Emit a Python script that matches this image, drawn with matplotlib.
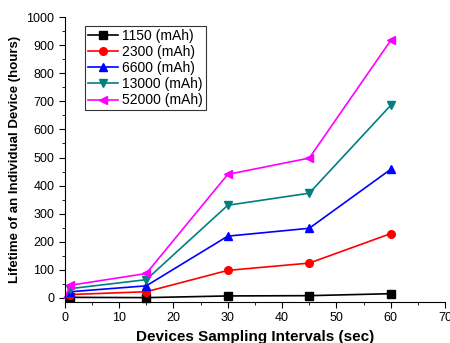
import matplotlib.pyplot as plt
from matplotlib.ticker import MultipleLocator

plt.rcParams['font.family'] = ['Liberation Sans', 'DejaVu Sans']

x = [0, 1, 15, 30, 45, 60]
labels = ['1150 (mAh)', '2300 (mAh)', '6600 (mAh)', '13000 (mAh)', '52000 (mAh)']
y1150 = [0, 2, 1, 7, 8, 15]
y2300 = [0, 12, 22, 98, 124, 229]
y6600 = [0, 22, 43, 220, 248, 458]
y13000 = [0, 33, 65, 330, 373, 686]
y52000 = [0, 45, 87, 440, 498, 917]

series = [y1150, y2300, y6600, y13000, y52000]
colors = ['black', 'red', 'blue', '#008080', 'magenta']
markers = ['s', 'o', '^', 'v', '<']

fig = plt.figure(figsize=(4.5, 3.43), dpi=100)
ax = fig.add_axes([0.144, 0.12, 0.845, 0.83])

for ys, c, m, lab in zip(series, colors, markers, labels):
    ax.plot(x, ys, color=c, marker=m, markersize=5.5, lw=1.2, label=lab,
            markevery=[1, 2, 3, 4, 5], clip_on=False)

ax.set_xlim(0, 70)
ax.set_ylim(-14, 1000)
ax.xaxis.set_major_locator(MultipleLocator(10))
ax.xaxis.set_minor_locator(MultipleLocator(5))
ax.yaxis.set_major_locator(MultipleLocator(100))
ax.yaxis.set_minor_locator(MultipleLocator(50))
ax.spines['top'].set_visible(False)
ax.spines['right'].set_visible(False)
ax.tick_params(which='major', direction='out', length=4, labelsize=9)
ax.tick_params(which='minor', direction='out', length=2)

ax.set_xlabel('Devices Sampling Intervals (sec)', fontsize=11, fontweight='bold')
ax.set_ylabel('Lifetime of an Individual Device (hours)', fontsize=9.5, fontweight='bold')

leg = ax.legend(loc='upper left', bbox_to_anchor=(0.053, 0.968), fontsize=10,
                fancybox=False, edgecolor='black', handlelength=2.2,
                borderpad=0.2, labelspacing=0.15, handletextpad=0.3, borderaxespad=0)
leg.get_frame().set_linewidth(0.8)

fig.savefig('out.png', dpi=100)
